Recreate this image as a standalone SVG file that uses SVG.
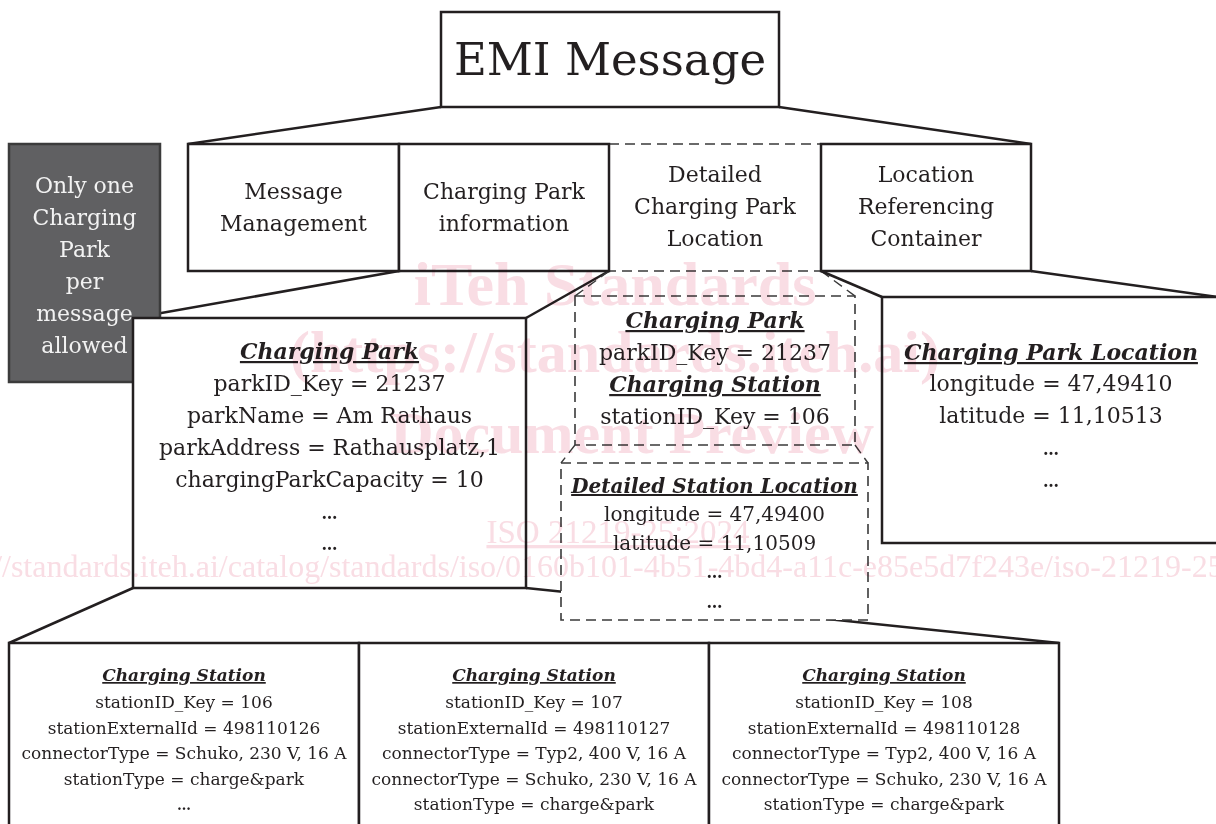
<svg xmlns="http://www.w3.org/2000/svg" width="1216" height="824" viewBox="0 0 1216 824">
<style>
.box{fill:#ffffff;stroke:#231f20;stroke-width:2.5}
.dbox{fill:#ffffff;stroke:#3a3a3a;stroke-width:1.6;stroke-dasharray:10 6}
.ln{stroke:#231f20;stroke-width:2.5;fill:none}
.dl{stroke:#3a3a3a;stroke-width:1.4;stroke-dasharray:10 6;fill:none}
.t{font-family:"DejaVu Serif","Liberation Serif",serif;fill:#231f20;text-anchor:middle}
.hd{font-weight:bold;font-style:italic;text-decoration:underline}
.el{font-weight:bold;font-size:16px}
.f22{font-size:22px}
.f20{font-size:20px}
.f17{font-size:17px}
.wm{font-family:"Liberation Serif",serif;fill:#f9dde4;text-anchor:middle;mix-blend-mode:multiply}
</style>

<g id="connectors">
<line class="ln" x1="441" y1="107" x2="188" y2="144"/>
<line class="ln" x1="779" y1="107" x2="1031" y2="144"/>
<line class="ln" x1="399" y1="271" x2="133" y2="318"/>
<line class="ln" x1="609" y1="271" x2="526" y2="318"/>
<line class="dl" x1="609" y1="271" x2="575" y2="296"/>
<line class="dl" x1="821" y1="271" x2="855" y2="296"/>
<line class="ln" x1="821" y1="271" x2="882" y2="297"/>
<line class="ln" x1="1031" y1="271" x2="1218" y2="297"/>
<line class="dl" x1="575" y1="445" x2="561" y2="463"/>
<line class="dl" x1="855" y1="445" x2="868" y2="463"/>
<line class="ln" x1="133" y1="588" x2="9" y2="643"/>
<line class="ln" x1="526" y1="588" x2="1059" y2="643"/>
</g>

<g id="emi-message">
<rect class="box" x="441" y="12" width="338" height="95"/>
<text class="t" x="610" y="75" style="font-size:45px">EMI Message</text>
</g>

<g id="only-one-note">
<rect x="9" y="144" width="151" height="238" fill="#606062" stroke="#3b3b3b" stroke-width="2.5"/>
<text class="t f22" x="84.5" style="fill:#f2f2f2"><tspan x="84.5" y="193">Only one</tspan><tspan x="84.5" y="225">Charging</tspan><tspan x="84.5" y="257">Park</tspan><tspan x="84.5" y="289">per</tspan><tspan x="84.5" y="321">message</tspan><tspan x="84.5" y="353">allowed</tspan></text>
</g>

<g id="detailed-charging-park-location">
<rect class="dbox" x="609" y="144" width="212" height="127"/>
<text class="t f22"><tspan x="715" y="182">Detailed</tspan><tspan x="715" y="214">Charging Park</tspan><tspan x="715" y="246">Location</tspan></text>
</g>

<g id="message-management">
<rect class="box" x="188" y="144" width="211" height="127"/>
<text class="t f22"><tspan x="293.5" y="199">Message</tspan><tspan x="293.5" y="231">Management</tspan></text>
</g>

<g id="charging-park-information">
<rect class="box" x="399" y="144" width="210" height="127"/>
<text class="t f22"><tspan x="504" y="199">Charging Park</tspan><tspan x="504" y="231">information</tspan></text>
</g>

<g id="location-referencing-container">
<rect class="box" x="821" y="144" width="210" height="127"/>
<text class="t f22"><tspan x="926" y="182">Location</tspan><tspan x="926" y="214">Referencing</tspan><tspan x="926" y="246">Container</tspan></text>
</g>

<g id="charging-park">
<rect class="box" x="133" y="318" width="393" height="270"/>
<text class="t f22 hd" x="329.5" y="359">Charging Park</text>
<text class="t f22"><tspan x="329.5" y="391">parkID_Key = 21237</tspan><tspan x="329.5" y="423">parkName = Am Rathaus</tspan><tspan x="329.5" y="455">parkAddress = Rathausplatz,1</tspan><tspan x="329.5" y="487">chargingParkCapacity = 10</tspan><tspan class="el" x="329.5" y="519">…</tspan><tspan class="el" x="329.5" y="550">…</tspan></text>
</g>

<g id="station-park-reference">
<rect class="dbox" x="575" y="296" width="280" height="149"/>
<text class="t f22 hd" x="715" y="328">Charging Park</text>
<text class="t f22" x="715" y="360">parkID_Key = 21237</text>
<text class="t f22 hd" x="715" y="392">Charging Station</text>
<text class="t f22" x="715" y="424">stationID_Key = 106</text>
</g>

<g id="detailed-station-location">
<rect class="dbox" x="561" y="463" width="307" height="157"/>
<text class="t f20 hd" x="714.5" y="493">Detailed Station Location</text>
<text class="t f20"><tspan x="714.5" y="521">longitude = 47,49400</tspan><tspan x="714.5" y="550">latitude = 11,10509</tspan><tspan class="el" x="714.5" y="578">…</tspan><tspan class="el" x="714.5" y="608">…</tspan></text>
</g>

<g id="charging-park-location">
<rect class="box" x="882" y="297" width="340" height="246"/>
<text class="t f22 hd" x="1051" y="360">Charging Park Location</text>
<text class="t f22"><tspan x="1051" y="391">longitude = 47,49410</tspan><tspan x="1051" y="423">latitude = 11,10513</tspan><tspan class="el" x="1051" y="455">…</tspan><tspan class="el" x="1051" y="487">…</tspan></text>
</g>

<g id="charging-station-106">
<rect class="box" x="9" y="643" width="350" height="195"/>
<text class="t f17 hd" x="184" y="681">Charging Station</text>
<text class="t f17"><tspan x="184" y="708">stationID_Key = 106</tspan><tspan x="184" y="733.5">stationExternalId = 498110126</tspan><tspan x="184" y="759">connectorType = Schuko, 230 V, 16 A</tspan><tspan x="184" y="784.5">stationType = charge&amp;park</tspan><tspan class="el" x="184" y="810" style="font-size:14px">…</tspan></text>
</g>

<g id="charging-station-107">
<rect class="box" x="359" y="643" width="350" height="195"/>
<text class="t f17 hd" x="534" y="681">Charging Station</text>
<text class="t f17"><tspan x="534" y="708">stationID_Key = 107</tspan><tspan x="534" y="733.5">stationExternalId = 498110127</tspan><tspan x="534" y="759">connectorType = Typ2, 400 V, 16 A</tspan><tspan x="534" y="784.5">connectorType = Schuko, 230 V, 16 A</tspan><tspan x="534" y="810">stationType = charge&amp;park</tspan></text>
</g>

<g id="charging-station-108">
<rect class="box" x="709" y="643" width="350" height="195"/>
<text class="t f17 hd" x="884" y="681">Charging Station</text>
<text class="t f17"><tspan x="884" y="708">stationID_Key = 108</tspan><tspan x="884" y="733.5">stationExternalId = 498110128</tspan><tspan x="884" y="759">connectorType = Typ2, 400 V, 16 A</tspan><tspan x="884" y="784.5">connectorType = Schuko, 230 V, 16 A</tspan><tspan x="884" y="810">stationType = charge&amp;park</tspan></text>
</g>

<g id="watermark">
<text class="wm" x="615" y="305" style="font-size:62px;font-weight:bold">iTeh Standards</text>
<text class="wm" x="615" y="372" style="font-size:60px;font-weight:bold">(https://standards.iteh.ai)</text>
<text class="wm" x="632" y="453" style="font-size:60px;font-weight:bold">Document Preview</text>
<text class="wm" x="618" y="543" style="font-size:33px;text-decoration:underline">ISO 21219-25:2024</text>
<text x="-78" y="577" style="font-family:'Liberation Serif',serif;font-size:32px;fill:#f9dde4;mix-blend-mode:multiply">https://standards.iteh.ai/catalog/standards/iso/0160b101-4b51-4bd4-a11c-e85e5d7f243e/iso-21219-25-2024</text>
</g>
</svg>
